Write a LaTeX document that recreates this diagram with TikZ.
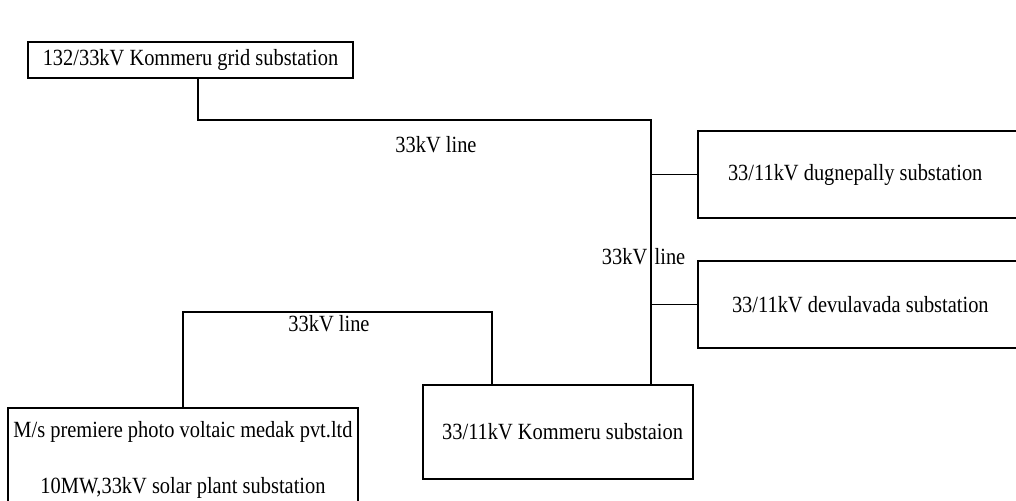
\documentclass[tikz,border=0pt]{standalone}
\usepackage{fontspec}
\setmainfont{Liberation Serif}[FakeStretch=0.88]
\usetikzlibrary{positioning,calc}

\begin{document}
\begin{tikzpicture}[x=1pt,y=-1pt,line width=1.3pt,
    font=\fontsize{23.2}{26}\selectfont,
    box/.style={draw,rectangle,inner sep=0pt},
    lbl/.style={inner sep=0pt}]
        \useasboundingbox (0,0) rectangle (1016,500);
        \clip (0,0) rectangle (1016,500);
        % substations
        \node[box,minimum width=325pt,minimum height=36pt] (grid) at (190.5,60) {132/33kV Kommeru grid substation};
        \node[box,minimum height=87pt,text width=280pt,inner xsep=30pt,align=flush left] (dugne) at (868,174.5) {33/11kV dugnepally substation};
        \node[box,minimum height=87pt,text width=272pt,inner xsep=34pt,align=flush left] (devula) at (868,304.5) {33/11kV devulavada substation};
        \node[box,minimum height=94pt,text width=250pt,inner xsep=10pt,align=flush right] (kommeru) at (558,432) {33/11kV Kommeru substaion};
        \node[box,minimum width=350pt,minimum height=104pt,align=center] (solar) at (183,460) {M/s premiere photo voltaic medak pvt.ltd\\[30pt]10MW,33kV solar plant substation};
        % 33kV lines
        \coordinate (bus) at (651,120);
        \coordinate (loop) at (183,312);
        \draw ([xshift=7.5pt]grid.south) |- (bus) -- (bus |- kommeru.north);
        \draw (dugne.west) -- (dugne.west -| bus);
        \draw (devula.west) -- (devula.west -| bus);
        \draw (solar.north) |- (loop) -| ([xshift=-66pt]kommeru.north);
        \node[lbl] (toplbl) at (436,145) {33kV line};
        \coordinate (bustap) at (651,257);
        \node[lbl,anchor=east] (buslbla) at ([xshift=-3pt]bustap) {33kV};
        \node[lbl,anchor=west] (buslblb) at ([xshift=3pt]bustap) {line};
        \node[lbl] (looplbl) at (329,324) {33kV line};
      \end{tikzpicture}
\end{document}
